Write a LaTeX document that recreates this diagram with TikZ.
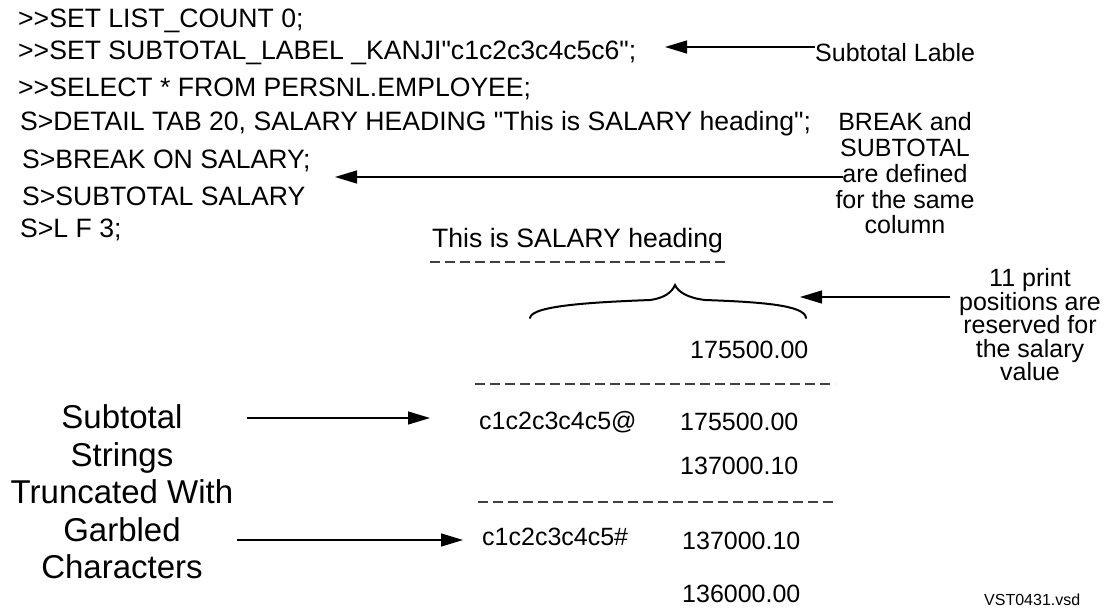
\documentclass[tikz,border=0pt]{standalone}
\usepackage{fontspec}
\setmainfont{Liberation Sans}[Ligatures=TeXOff]
\usetikzlibrary{arrows.meta}
\tikzset{
  code/.style={anchor=west,inner sep=0pt,font=\fontsize{26.6}{28}\selectfont},
  val/.style={anchor=west,inner sep=0pt,font=\fontsize{25}{28}\selectfont},
  note/.style={align=center,inner sep=0pt,font=\fontsize{25}{25.75}\selectfont},
  note2/.style={align=center,inner sep=0pt,font=\fontsize{25}{23.5}\selectfont},
  bignote/.style={align=center,inner sep=0pt,font=\fontsize{33}{37.5}\selectfont},
  arr/.style={line width=1.3pt,-{Triangle[length=22pt,width=13pt]}},
  rule/.style={line width=1.3pt,black!75,dash pattern=on 10pt off 5pt},
}
\begin{document}
\begin{tikzpicture}[x=1pt,y=-1pt]
\useasboundingbox (0,0) rectangle (1117,609);
% code lines
\node[code] (l1) at (18,21) {>>SET LIST\_COUNT 0;};
\node[code] (l2) at (18,53) {>>SET SUBTOTAL\_LABEL \_KANJI"c1c2c3c4c5c6";};
\node[code] (l3) at (18,89) {>>SELECT * FROM PERSNL.EMPLOYEE;};
\node[code] (l4) at (20,124) {S>DETAIL TAB 20, SALARY HEADING "This is SALARY heading";};
\node[code] (l5) at (22,161) {S>BREAK ON SALARY;};
\node[code] (l6) at (22,196) {S>SUBTOTAL SALARY};
\node[code] (l7) at (20,230) {S>L F 3;};
% notes
\node[anchor=west,inner sep=0pt,font=\fontsize{25}{28}\selectfont] (lable) at (815,53) {Subtotal Lable};
\coordinate (t1) at (665,47);
\draw[arr] (lable.west |- t1) -- (t1);
\node[note] (brk) at (905,173.5) {BREAK and\\SUBTOTAL\\are defined\\for the same\\column};
\coordinate (t2) at (335,177);
\draw[arr] (843,177) coordinate (s2) -- (t2);
% heading
\node[code] (head) at (432,241) {This is SALARY heading};
\draw[rule] (430,262) coordinate (d1a) -- (727,262) coordinate (d1b);
% brace
\draw[line width=2pt,line cap=round] (530,318) coordinate (bl)
  .. controls (531,305) and (600,302) .. (650,300)
  .. controls (665,298) and (672,292) .. (675,285) coordinate (bt)
  .. controls (678,292) and (688,298) .. (705,300)
  .. controls (760,302) and (805,305) .. (806,318) coordinate (br);
\node[note2] (pos) at (1030,325) {11 print\\positions are\\reserved for\\the salary\\value};
\coordinate (t3) at (800,297);
\draw[arr] (950,297) coordinate (s3) -- (t3);
% values
\node[val] (v0) at (690,350) {175500.00};
\draw[rule] (475,384) coordinate (d2a) -- (835,384) coordinate (d2b);
\node[val] (s1) at (479,422) {c1c2c3c4c5@};
\node[val] (v1) at (680,422) {175500.00};
\node[val] (v2) at (680,466) {137000.10};
\draw[rule] (478,502) coordinate (d3a) -- (835,502) coordinate (d3b);
\node[val] (s2n) at (482,537) {c1c2c3c4c5\#};
\node[val] (v3) at (682,541) {137000.10};
\node[val] (v4) at (682,594) {136000.00};
\node[anchor=west,inner sep=0pt,font=\fontsize{16}{18}\selectfont] (vsd) at (984,600) {VST0431.vsd};
% left note
\node[bignote] (trunc) at (122,492) {Subtotal\\Strings\\Truncated With\\Garbled\\Characters};
\draw[arr] (247,418) coordinate (a1) -- (430,418) coordinate (b1);
\draw[arr] (237,540) coordinate (a2) -- (463,540) coordinate (b2);
\end{tikzpicture}
\end{document}
